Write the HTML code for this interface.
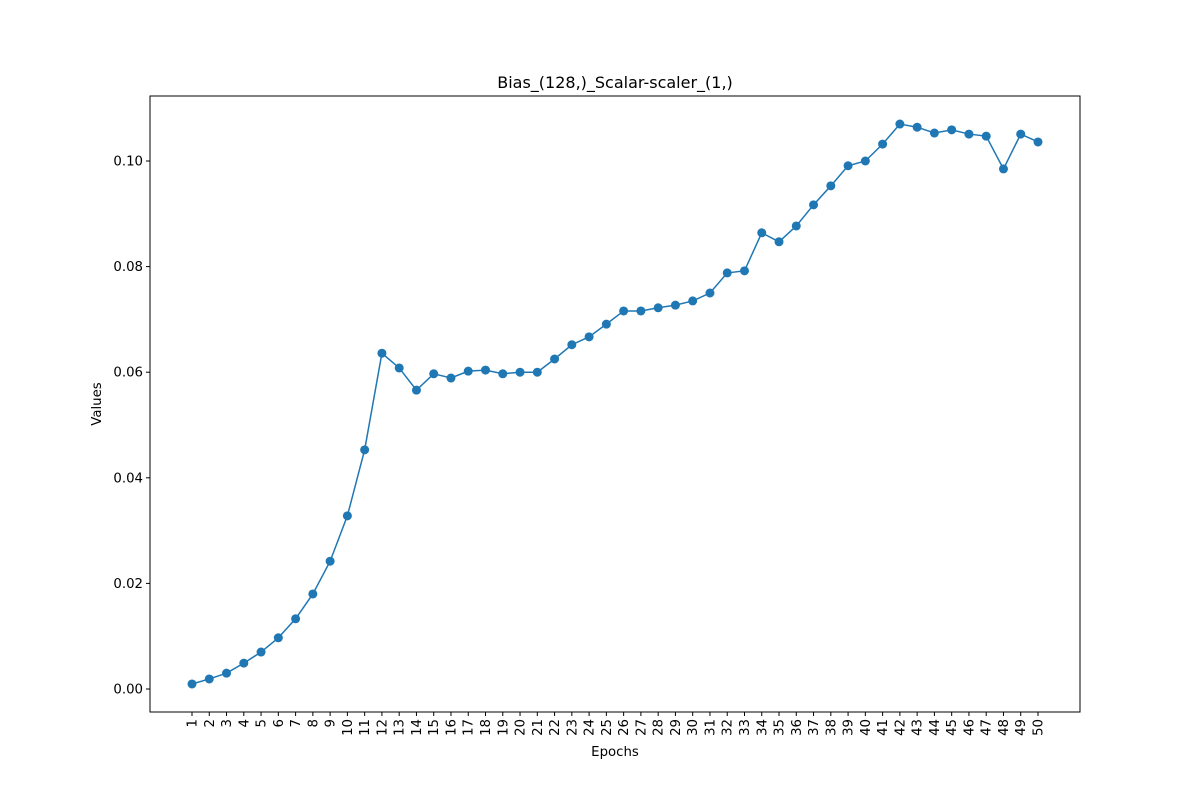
<!DOCTYPE html>
<html><head><meta charset="utf-8"><style>
body{margin:0;background:#fff}
svg{display:block;font-family:"DejaVu Sans","Liberation Sans",sans-serif}
</style></head><body>
<svg id="chart" width="1200" height="800"></svg>
<script>
const epochs=[];for(let i=1;i<=50;i++)epochs.push(i);
const values=[0.00095,0.0019,0.0030,0.0049,0.0070,0.0097,0.0133,0.0180,0.0242,0.0328,0.0453,0.0636,0.0608,0.0566,0.0597,0.0589,0.0602,0.0604,0.0597,0.0600,0.0600,0.0625,0.0652,0.0667,0.0691,0.0716,0.0716,0.0722,0.0727,0.0735,0.0750,0.0788,0.0792,0.0864,0.0847,0.0877,0.0917,0.0953,0.0991,0.1000,0.1032,0.1070,0.1064,0.1053,0.1059,0.1051,0.1047,0.0985,0.1051,0.1036];
const yTicks=[0,0.02,0.04,0.06,0.08,0.10];
const yTickLabels=["0.00","0.02","0.04","0.06","0.08","0.10"];
const NS="http://www.w3.org/2000/svg";
const svg=document.getElementById('chart');
const L=150,R=1080,T=96,B=712;
const x=e=>192+(e-1)*(1038-192)/49;
const y=v=>689-v*5280;
function mk(t,a,p){const el=document.createElementNS(NS,t);for(const k in a)el.setAttribute(k,a[k]);(p||svg).appendChild(el);return el;}
const frame=mk('rect',{x:L,y:T,width:R-L,height:B-T,fill:'none',stroke:'#000','stroke-width':1});


yTicks.forEach((v,i)=>{
  const tk=mk('line',{x1:L-4,x2:L,y1:y(v),y2:y(v),stroke:'#000'});
  
  
  const tx=mk('text',{x:L-7,y:y(v)+4.5,'text-anchor':'end','font-size':13.3});
  tx.textContent=yTickLabels[i];
  
  
});
epochs.forEach(e=>{
  const tk=mk('line',{x1:x(e),x2:x(e),y1:B,y2:B+4,stroke:'#000'});
  
  
  const tx=mk('text',{x:0,y:0,'text-anchor':'end','font-size':13.3,transform:`translate(${x(e)+4.5},${B+7}) rotate(-90)`});
  tx.textContent=e;
  
  
});
const pts=epochs.map((e,i)=>x(e)+','+y(values[i])).join(' ');
const line=mk('polyline',{points:pts,fill:'none',stroke:'#1f77b4','stroke-width':1.5});


epochs.forEach((e,i)=>{
  const c=mk('circle',{cx:x(e),cy:y(values[i]),r:4.5,fill:'#1f77b4'});
  
  
});
const title=mk('text',{x:(L+R)/2,y:88,'text-anchor':'middle','font-size':16});
title.textContent='Bias_(128,)_Scalar-scaler_(1,)';


const xt=mk('text',{x:(L+R)/2,y:756,'text-anchor':'middle','font-size':13.3});
xt.textContent='Epochs';


const yt=mk('text',{x:0,y:0,'text-anchor':'middle','font-size':13.3,transform:`translate(101,${(T+B)/2}) rotate(-90)`});
yt.textContent='Values';


</script>
</body></html>
